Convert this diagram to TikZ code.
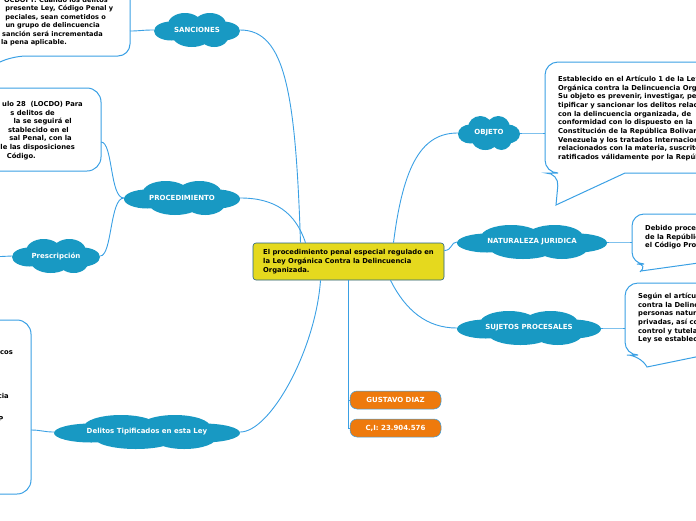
\documentclass[tikz,border=0pt]{standalone}
\usepackage{fontspec}
\setmainfont{DejaVu Sans}
\definecolor{nube}{HTML}{1899C3}
\definecolor{linea}{HTML}{3AA0E4}
\definecolor{amarillo}{HTML}{E5D91E}
\definecolor{naranja}{HTML}{EE7A0D}
\tikzset{
  nubetexto/.style={inner sep=0pt, minimum height=34pt, text=white,
    font=\bfseries\fontsize{7}{8}\selectfont},
  ramal/.style={draw=linea, line width=0.9pt},
  globo/.style={draw=linea, line width=1pt},
  texto/.style={anchor=north west, inner sep=0pt, align=left,
    font=\bfseries\fontsize{6.8}{8.65}\selectfont},
  firma/.style={rounded corners=7pt, fill=naranja, draw=linea, line width=0.5pt,
    text=white, minimum width=91pt, minimum height=18pt,
    font=\bfseries\fontsize{7}{8}\selectfont}
}
% nube: nombre, posicion, semiancho, texto
\newcommand{\nube}[4]{%
  \begin{scope}[shift={(#2)}]
    \fill[nube] (-0.6*#3,1) ellipse [x radius=0.4*#3, y radius=9.5]
      (0.6*#3,1) ellipse [x radius=0.4*#3, y radius=9.5]
      (-0.28*#3,-5) ellipse [x radius=0.4*#3, y radius=12]
      (0.3*#3,-5) ellipse [x radius=0.38*#3, y radius=12]
      (-0.12*#3,5.5) ellipse [x radius=0.45*#3, y radius=11.5]
      (0.4*#3,5) ellipse [x radius=0.35*#3, y radius=12];
  \end{scope}
  \node[nubetexto, minimum width=2*#3] (#1) at (#2) {#4};
}
\begin{document}
\begin{tikzpicture}[x=1pt,y=-1pt]
\useasboundingbox (0,0) rectangle (696,520);
\clip (0,0) rectangle (696,520);
% nodo central
\node[fill=amarillo, draw=linea!60!black, line width=0.6pt, rounded corners=3pt,
  minimum width=191pt, minimum height=37pt, align=left,
  font=\bfseries\fontsize{6.8}{9}\selectfont] (centro) at (348.5,261.5)
  {El procedimiento penal especial regulado en\\la Ley Orgánica Contra la Delincuencia\\Organizada.};
% nubes
\nube{sanciones}{197,30}{43}{SANCIONES}
\nube{procedimiento}{182,198}{58}{PROCEDIMIENTO}
\nube{prescripcion}{56,256}{44}{Prescripción}
\nube{delitos}{147,432}{93}{Delitos Tipificados en esta Ley}
\nube{objeto}{489,133}{31}{OBJETO}
\nube{naturaleza}{532,242}{75}{NATURALEZA JURIDICA}
\nube{sujetos}{529,328}{72}{SUJETOS PROCESALES}
% firma
\node[firma] (gustavo) at (395.5,400) {GUSTAVO DIAZ};
\node[firma] (cedula) at (395.5,428) {C,I: 23.904.576};
% globos de texto
\draw[globo] (-60,-20) [rounded corners=12pt] -- (130,-20) -- (130,56) -- (14,56) [sharp corners] -- (-14,68);
\draw[globo] (-60,88) [rounded corners=14pt] -- (101,88) -- (101,171) -- (-60,171);
\draw[globo] (-60,320) [rounded corners=14pt] -- (31,320) -- (31,494) -- (-60,494);
\draw[globo] (720,62) [rounded corners=13pt] -- (545,62) -- (545,173) -- (559,173) [sharp corners] -- (556,205) -- (625,173) -- (720,173);
\draw[globo] (720,214) [rounded corners=12pt] -- (632,214) -- (632,264) -- (649,264) [sharp corners] -- (641,271) -- (720,260);
\draw[globo] (720,283) [rounded corners=13pt] -- (625,283) -- (625,355) -- (640,355) [sharp corners] -- (647,367) -- (720,352);
\coordinate (gsanciones) at (130,31);
\coordinate (gprocedimiento) at (101,142);
\coordinate (gprescripcion) at (-10,257);
\coordinate (gdelitos) at (31,430);
\coordinate (gobjeto) at (545,133);
\coordinate (gnaturaleza) at (632,242);
\coordinate (gsujetos) at (625,328);
% textos de los globos (cortados por el borde)
\foreach \ex/\dy/\linea [count=\i] in {108/0/{OCDOFT: Cuando los delitos},
    113.5/8.5/{presente Ley, Código Penal y}, 106/17/{peciales, sean cometidos o},
    100/25.3/{un grupo de delincuencia}, 103/33.6/{sanción será incrementada},
    67/42/{la pena aplicable.}}
  \node[texto, anchor=base east, font=\bfseries\fontsize{6.6}{8}\selectfont]
    (tsanciones\i) at (\ex,\dy+2.4) {\linea};
\foreach \ex/\dy/\linea [count=\i] in {83/104/{ulo 28\ \ (LOCDO) Para},
    55/113/{s delitos de}, 72/121.5/{la se seguirá el},
    69/130/{stablecido en el}, 72/138.5/{sal Penal, con la},
    75/147/{le las disposiciones}, 36/156/{Código.}}
  \node[texto, anchor=base east] (tprocedimiento\i) at (\ex,\dy+2.4) {\linea};
\node[texto, anchor=base east] (tdel1) at (13,354.5) {cos};
\node[texto, anchor=base east] (tdel2) at (9,398.5) {cia};
\node[texto, anchor=base east] (tdel3) at (3.5,421.5) {P};
\node[texto] (tobjeto) at (558,76) {Establecido en el Artículo 1 de la Ley\\
  Orgánica contra la Delincuencia Organizada\\
  Su objeto es prevenir, investigar, perseguir,\\
  tipificar y sancionar los delitos relacionados\\
  con la delincuencia organizada, de\\
  conformidad con lo dispuesto en la\\
  Constitución de la República Bolivariana de\\
  Venezuela y los tratados Internacionales\\
  relacionados con la materia, suscritos y\\
  ratificados válidamente por la República.};
\node[texto] (tnaturaleza) at (645,225) {Debido proceso\\de la República\\el Código Procesal};
\node[texto] (tsujetos) at (638,293) {Según el artículo\\contra la Delincuencia\\personas naturales\\privadas, así como\\control y tutela\\Ley se establece};
% ramas
\draw[ramal] ([xshift=-48pt]centro.north) .. controls +(-5,-150) and +(45,0) .. (sanciones.east);
\draw[ramal] ([xshift=-43pt]centro.north) .. controls +(-10,-30) and +(35,0) .. (procedimiento.east);
\draw[ramal] ([xshift=-28pt]centro.south) .. controls +(-5,70) and +(30,0) .. (delitos.east);
\draw[ramal] ([xshift=45pt]centro.north) .. controls +(10,-80) and +(-35,0) .. (objeto.west);
\draw[ramal] ([yshift=11pt]centro.east) .. controls +(8,0) and +(-6,0) .. (naturaleza.west);
\draw[ramal] ([xshift=42pt]centro.south) .. controls +(15,30) and +(-30,0) .. (sujetos.west);
\draw[ramal] (centro.south) |- (gustavo.west);
\draw[ramal] (centro.south) |- (cedula.west);
\draw[ramal] (sanciones.west) .. controls +(-12,0) and +(10,0) .. (gsanciones);
\draw[ramal] (procedimiento.west) .. controls +(-14,0) and +(12,0) .. (gprocedimiento);
\draw[ramal] (procedimiento.west) .. controls +(-14,0) and +(12,0) .. (prescripcion.east);
\draw[ramal] (prescripcion.west) -- (gprescripcion);
\draw[ramal] (delitos.west) .. controls +(-10,0) and +(10,0) .. (gdelitos);
\draw[ramal] (objeto.east) .. controls +(10,0) and +(-10,0) .. (gobjeto);
\draw[ramal] (naturaleza.east) .. controls +(10,0) and +(-10,0) .. (gnaturaleza);
\draw[ramal] (sujetos.east) .. controls +(10,0) and +(-10,0) .. (gsujetos);
\end{tikzpicture}
\end{document}
